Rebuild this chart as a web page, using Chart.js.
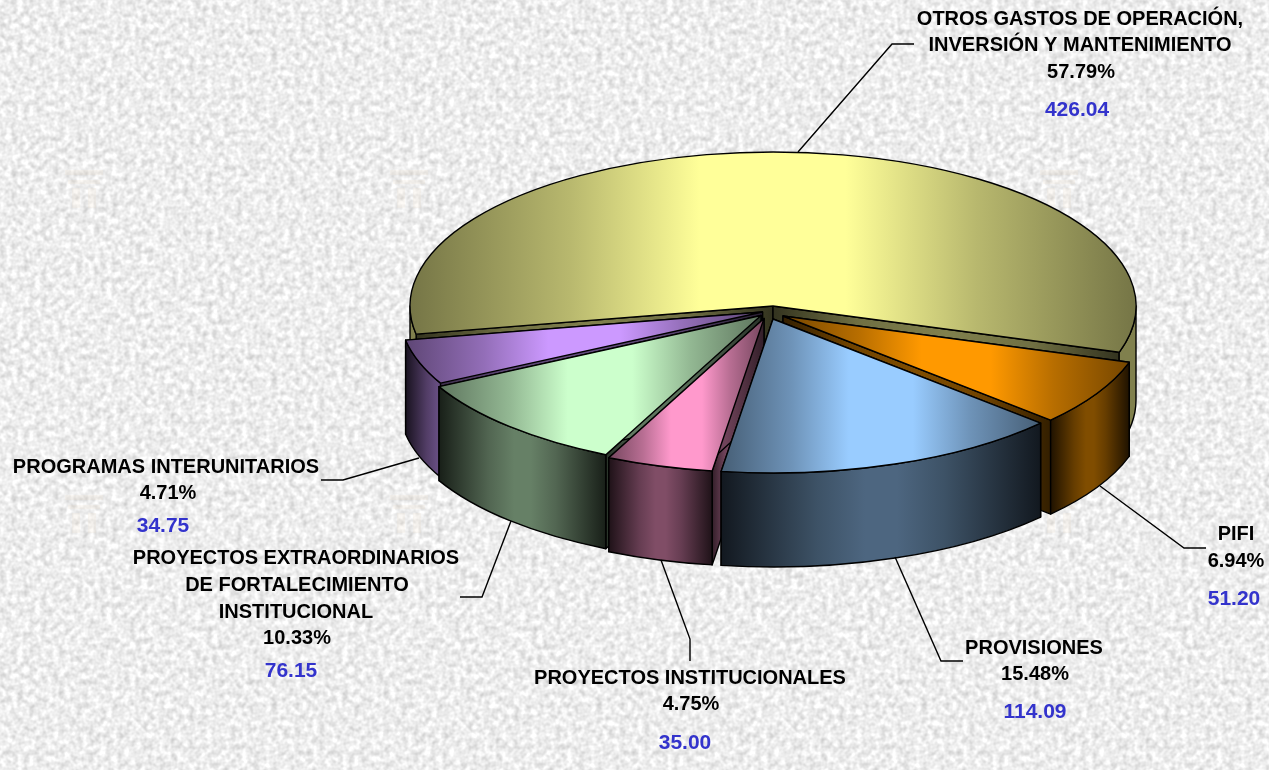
<!DOCTYPE html>
<html lang="es">
<head>
<meta charset="utf-8">
<title>Gastos</title>
<script src="https://cdn.jsdelivr.net/npm/chart.js@4/dist/chart.umd.min.js"></script>
<style>
html,body{margin:0;padding:0;width:1269px;height:770px;overflow:hidden;background-color:#e6e6e6;}
canvas{display:block;}
</style>
</head>
<body>
<canvas id="c" width="1269" height="770"></canvas>
<script>
// ---- data ----
const categories = [
  "OTROS GASTOS DE OPERACIÓN, INVERSIÓN Y MANTENIMIENTO",
  "PIFI",
  "PROVISIONES",
  "PROYECTOS INSTITUCIONALES",
  "PROYECTOS EXTRAORDINARIOS DE FORTALECIMIENTO INSTITUCIONAL",
  "PROGRAMAS INTERUNITARIOS"
];
const values = [426.04, 51.20, 114.09, 35.00, 76.15, 34.75];
const percents = ["57.79%", "6.94%", "15.48%", "4.75%", "10.33%", "4.71%"];

// ---- styles and layout ----
const baseColors = ["#ffff99", "#ff9900", "#99ccff", "#ff99cc", "#ccffcc", "#cc99ff"];
const CX = 773, CY = 306, RADIUS = 363, TILT = 154 / 363, DEPTH = 94;
const explode = [[0,0],[10,10],[0,13],[-9,12.5],[-12,9.5],[-10.5,6]];
const paintOrder = [0,5,1,4,3,2];
const wallStretch = [1,1,1,1,1,2];
const wallFlat = [true,false,false,false,false,false];
const labelBlocks = [
  {lines:[["OTROS GASTOS DE OPERACIÓN,",1080,19],["INVERSIÓN Y MANTENIMIENTO",1080,45]], pct:[1081,72], val:[1077,110],
   leader:[[798,152],[892,44],[914,44]]},
  {lines:[["PIFI",1236,534]], pct:[1236,561], val:[1234,599],
   leader:[[1100,486],[1184,548],[1206,548]]},
  {lines:[["PROVISIONES",1034,648]], pct:[1035,674], val:[1035,712],
   leader:[[895,557],[941,661],[963,661]]},
  {lines:[["PROYECTOS INSTITUCIONALES",690,678]], pct:[691,704], val:[685,743],
   leader:[[661,560],[690,639],[690,661]]},
  {lines:[["PROYECTOS EXTRAORDINARIOS",296,558],["DE FORTALECIMIENTO",297,585],["INSTITUCIONAL",296,612]], pct:[297,638], val:[291,671],
   leader:[[511,521],[482,597],[460,597]]},
  {lines:[["PROGRAMAS INTERUNITARIOS",166,467]], pct:[168,493], val:[163,526],
   leader:[[419,458],[343,480],[321,480]]}
];

// paper texture behind the chart
const tile = `<svg xmlns='http://www.w3.org/2000/svg' width='325' height='325'>
<filter id='n' x='0' y='0' width='100%' height='100%' color-interpolation-filters='sRGB'>
<feTurbulence type='fractalNoise' baseFrequency='0.17' numOctaves='2' seed='4' stitchTiles='stitch'/>
<feColorMatrix values='0.32 0 0 0 0.77  0.32 0 0 0 0.77  0.32 0 0 0 0.77  0 0 0 0 1'/>
<feGaussianBlur stdDeviation='0.6'/>
</filter>
<rect width='325' height='325' filter='url(#n)'/>
<g fill='#f0dcc4' opacity='0.16'>
<rect x='65' y='170' width='38' height='5'/><rect x='68' y='180' width='32' height='4'/>
<rect x='72' y='188' width='8' height='20'/><rect x='88' y='188' width='8' height='20'/>
</g></svg>`;
document.body.style.backgroundImage = 'url("data:image/svg+xml,' + encodeURIComponent(tile) + '")';
document.body.style.backgroundSize = '325px 325px';

function shade(hex, f){
  const n = parseInt(hex.slice(1),16);
  const c = [(n>>16)&255,(n>>8)&255,n&255].map(v=>Math.round(v*f));
  return `rgb(${c[0]},${c[1]},${c[2]})`;
}
function grad(ctx, x0, x1, hex, stops){
  const g = ctx.createLinearGradient(x0,0,x1,0);
  stops.forEach(s=>g.addColorStop(s[0], shade(hex,s[1])));
  return g;
}
const TOP_STOPS  = [[0,.46],[.22,.72],[.4,1],[.6,1],[.78,.72],[1,.46]];
const WALL_STOPS = [[0,.12],[.3,.4],[.45,.5],[.55,.5],[.7,.4],[1,.12]];
const FACE_STOPS = [[0,.2],[.25,.44],[.5,.5],[.75,.44],[1,.2]];

function extent(arc){
  let lo = 0, hi = 0;
  for(let a = arc.startAngle; a <= arc.endAngle; a += Math.PI/360){
    const c = Math.cos(a)*RADIUS; if(c<lo) lo=c; if(c>hi) hi=c;
  }
  const e = Math.cos(arc.endAngle)*RADIUS; if(e<lo) lo=e; if(e>hi) hi=e;
  return [lo,hi];
}
function radialFace(ctx, ox, oy, ang, fill){
  const px = ox + RADIUS*Math.cos(ang), py = oy + RADIUS*TILT*Math.sin(ang);
  ctx.beginPath();
  ctx.moveTo(ox,oy); ctx.lineTo(px,py); ctx.lineTo(px,py+DEPTH); ctx.lineTo(ox,oy+DEPTH); ctx.closePath();
  ctx.fillStyle = fill; ctx.fill();
  ctx.stroke();
}
function visibleWallParts(a0,a1){
  const T = Math.PI*2, parts = [];
  for(let k=-1;k<=2;k++){
    const s = Math.max(a0,k*T), e = Math.min(a1,k*T+Math.PI);
    if(e>s) parts.push([s,e]);
  }
  return parts;
}

const pie3dPlugin = {
  id:'pie3d',
  beforeDatasetDraw(chart, args){
    const ctx = chart.ctx, arcs = chart.getDatasetMeta(args.index).data;
    ctx.lineJoin = 'round';
    paintOrder.forEach(i=>{
      const arc = arcs[i], hex = baseColors[i];
      const ox = CX + explode[i][0], oy = CY + explode[i][1];
      const a0 = arc.startAngle, a1 = arc.endAngle;
      ctx.strokeStyle = '#000'; ctx.lineWidth = 1.4;

      // radial cut faces, extruded downwards
      const [lo,hi] = extent(arc);
      const faceFill = (ang)=>{
        const end = RADIUS*Math.cos(ang);
        return grad(ctx, ox+Math.min(0,end), ox+Math.max(0,end), hex, FACE_STOPS);
      };
      radialFace(ctx, ox, oy, a0, faceFill(a0));
      radialFace(ctx, ox, oy, a1, faceFill(a1));

      // outer wall
      visibleWallParts(a0,a1).forEach(p=>{
        const x0 = ox + RADIUS*Math.min(Math.cos(p[0]),Math.cos(p[1]));
        let x1 = ox + RADIUS*Math.max(Math.cos(p[0]),Math.cos(p[1]));
        x1 = x0 + (x1-x0)*wallStretch[i];
        ctx.beginPath();
        ctx.ellipse(ox,oy,RADIUS,RADIUS*TILT,0,p[0],p[1]);
        ctx.ellipse(ox,oy+DEPTH,RADIUS,RADIUS*TILT,0,p[1],p[0],true);
        ctx.closePath();
        ctx.fillStyle = wallFlat[i] ? shade(hex,.5) : grad(ctx,x0,x1,hex,WALL_STOPS);
        ctx.fill();
        ctx.stroke();
      });

      // top face: drawn by the Chart.js arc element, squashed into the tilt
      ctx.save();
      ctx.translate(ox,oy);
      ctx.scale(1,TILT);
      ctx.translate(-arc.x,-arc.y);
      const original = arc.options;
      arc.options = Object.create(original,{
        backgroundColor:{value:grad(ctx, arc.x+lo, arc.x+hi, hex, TOP_STOPS)},
        borderWidth:{value:0}
      });
      arc.draw(ctx);
      arc.options = original;
      ctx.restore();

      // outline of the top face at a constant pen width
      ctx.beginPath();
      ctx.moveTo(ox,oy);
      ctx.ellipse(ox,oy,RADIUS,RADIUS*TILT,0,a0,a1);
      ctx.closePath();
      ctx.stroke();
    });
    return false;
  },
  afterDatasetsDraw(chart){
    const ctx = chart.ctx;
    ctx.save();
    ctx.textAlign = 'center';
    ctx.textBaseline = 'middle';
    labelBlocks.forEach((b,i)=>{
      ctx.strokeStyle = '#000'; ctx.lineWidth = 1.4; ctx.lineJoin='miter';
      ctx.beginPath();
      b.leader.forEach((p,j)=> j ? ctx.lineTo(p[0],p[1]) : ctx.moveTo(p[0],p[1]));
      ctx.stroke();
      ctx.fillStyle = '#000';
      ctx.font = 'bold 20px "Liberation Sans", Arial, sans-serif';
      b.lines.forEach(l=>ctx.fillText(l[0],l[1],l[2]));
      ctx.fillText(percents[i],b.pct[0],b.pct[1]);
      ctx.fillStyle = '#3333cc';
      ctx.font = 'bold 21px "Liberation Sans", Arial, sans-serif';
      ctx.fillText(values[i].toFixed(2),b.val[0],b.val[1]);
    });
    ctx.restore();
  }
};

new Chart(document.getElementById('c'),{
  type:'pie',
  data:{labels:categories,datasets:[{data:values,backgroundColor:baseColors,borderWidth:0,clip:false}]},
  options:{
    responsive:false,
    animation:false,
    rotation:259.46,
    radius:RADIUS,
    layout:{padding:{left:277}},
    events:[],
    plugins:{legend:{display:false},tooltip:{enabled:false},title:{display:false}}
  },
  plugins:[pie3dPlugin]
});
</script>
</body>
</html>
